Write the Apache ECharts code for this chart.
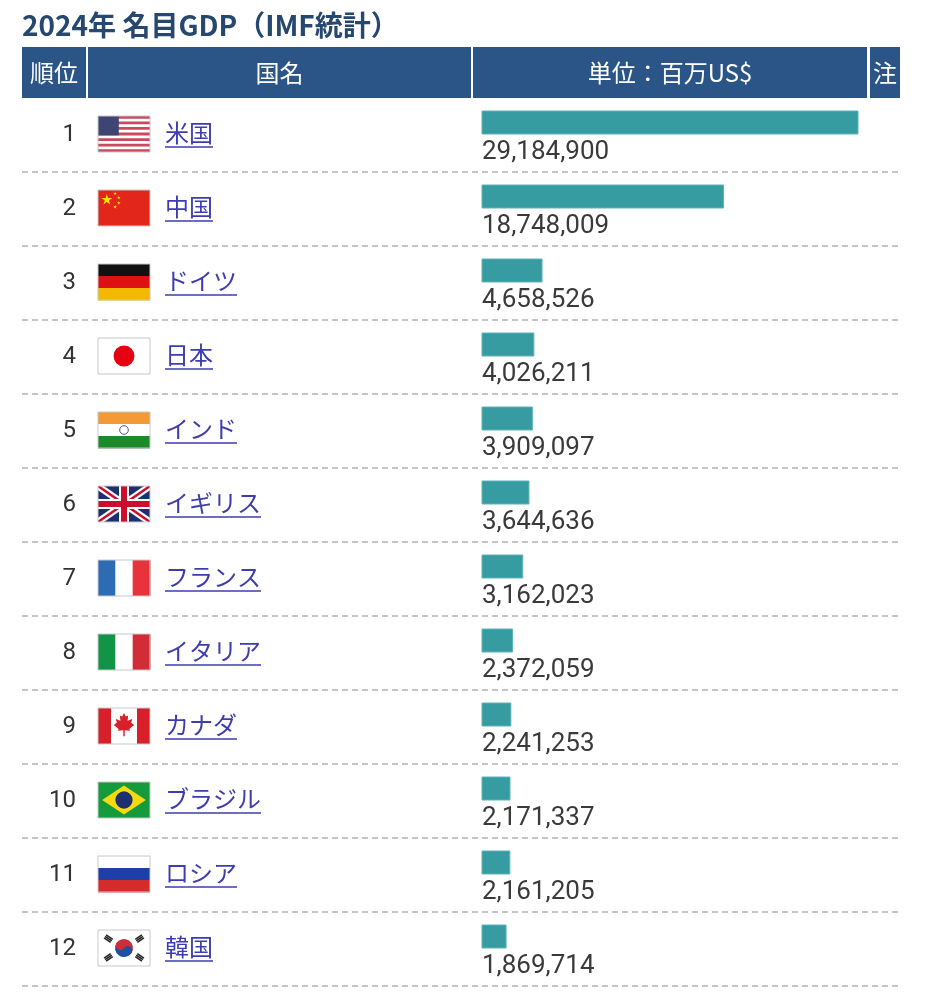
<!DOCTYPE html>
<html>
<head>
<meta charset="utf-8">
<script src="https://cdn.jsdelivr.net/npm/echarts@6/dist/echarts.min.js"></script>
<style>
  html, body { margin: 0; padding: 0; background: #fff; }
  #chart { width: 952px; height: 996px; }
</style>
</head>
<body>
<div id="chart"></div>
<script>
// data
var ranks = [1, 2, 3, 4, 5, 6, 7, 8, 9, 10, 11, 12];
var countries = ['米国', '中国', 'ドイツ', '日本', 'インド', 'イギリス', 'フランス', 'イタリア', 'カナダ', 'ブラジル', 'ロシア', '韓国'];
var flagCodes = ['us', 'cn', 'de', 'jp', 'in', 'gb', 'fr', 'it', 'ca', 'br', 'ru', 'kr'];
var gdp = [29184900, 18748009, 4658526, 4026211, 3909097, 3644636, 3162023, 2372059, 2241253, 2171337, 2161205, 1869714];
var titleText = '2024年 名目GDP（IMF統計）';
var headerLabels = ['順位', '国名', '単位：百万US$', '注'];

var JP = '"Noto Sans CJK JP", "Noto Sans", sans-serif';
var NAME_FONT = '24px ' + JP;
var NUM_FONT = '26px Roboto, "Noto Sans", sans-serif';
var LINK = '#3d3daf';

var measureCtx = document.createElement('canvas').getContext('2d');
function textWidth(str, font) {
  measureCtx.font = font;
  return measureCtx.measureText(str).width;
}

function rect(x, y, w, h, fill) {
  return { type: 'rect', shape: { x: x, y: y, width: w, height: h }, style: { fill: fill } };
}
function poly(points, fill) {
  return { type: 'polygon', shape: { points: points }, style: { fill: fill } };
}
function circle(cx, cy, r, fill) {
  return { type: 'circle', shape: { cx: cx, cy: cy, r: r }, style: { fill: fill } };
}
function star(cx, cy, r, fill) {
  var pts = [];
  for (var k = 0; k < 10; k++) {
    var a = -Math.PI / 2 + k * Math.PI / 5;
    var rr = k % 2 ? r * 0.382 : r;
    pts.push([cx + rr * Math.cos(a), cy + rr * Math.sin(a)]);
  }
  return poly(pts, fill);
}
function hBands(w, h, colors) {
  var bh = h / colors.length;
  return colors.map(function (c, k) { return rect(0, k * bh, w, bh + 0.5, c); });
}
function vBands(w, h, colors) {
  var bw = w / colors.length;
  return colors.map(function (c, k) { return rect(k * bw, 0, bw + 0.5, h, c); });
}

function flagShapes(code, w, h) {
  var s = [];
  if (code === 'us') {
    s.push(rect(0, 0, w, h, '#ffffff'));
    var sh = h / 13;
    for (var k = 0; k < 13; k += 2) s.push(rect(0, k * sh, w, sh, '#c94a5c'));
    s.push(rect(0, 0, w * 0.4, sh * 7, '#3f4572'));
  } else if (code === 'cn') {
    s.push(rect(0, 0, w, h, '#e3261c'));
    s.push(star(w * 0.17, h * 0.27, h * 0.16, '#ffde00'));
    s.push(star(w * 0.33, h * 0.1, h * 0.055, '#ffde00'));
    s.push(star(w * 0.4, h * 0.21, h * 0.055, '#ffde00'));
    s.push(star(w * 0.4, h * 0.36, h * 0.055, '#ffde00'));
    s.push(star(w * 0.33, h * 0.47, h * 0.055, '#ffde00'));
  } else if (code === 'de') {
    s = hBands(w, h, ['#111111', '#dd1111', '#f5b800']);
  } else if (code === 'jp') {
    s.push(rect(0, 0, w, h, '#ffffff'));
    s.push(circle(w / 2, h / 2, h * 0.29, '#e60012'));
  } else if (code === 'in') {
    s = hBands(w, h, ['#f39a37', '#ffffff', '#1a8a2a']);
    s.push({ type: 'circle', shape: { cx: w / 2, cy: h / 2, r: h * 0.12 }, style: { fill: 'none', stroke: '#4a5a8a', lineWidth: 1 } });
  } else if (code === 'gb') {
    var a = 6, b = a * h / w, a2 = 2.2, b2 = a2 * h / w;
    s.push(rect(0, 0, w, h, '#1c2f6e'));
    s.push(poly([[0, 0], [a, 0], [w, h - b], [w, h], [w - a, h], [0, b]], '#ffffff'));
    s.push(poly([[w, 0], [w, b], [a, h], [0, h], [0, h - b], [w - a, 0]], '#ffffff'));
    s.push(poly([[0, 0], [a2, 0], [w, h - b2], [w, h], [w - a2, h], [0, b2]], '#c8102e'));
    s.push(poly([[w, 0], [w, b2], [a2, h], [0, h], [0, h - b2], [w - a2, 0]], '#c8102e'));
    s.push(rect(0, h / 2 - 5, w, 10, '#ffffff'));
    s.push(rect(w / 2 - 5, 0, 10, h, '#ffffff'));
    s.push(rect(0, h / 2 - 3, w, 6, '#c8102e'));
    s.push(rect(w / 2 - 3, 0, 6, h, '#c8102e'));
  } else if (code === 'fr') {
    s = vBands(w, h, ['#2d6bb5', '#ffffff', '#e8323c']);
  } else if (code === 'it') {
    s = vBands(w, h, ['#129448', '#ffffff', '#d22c36']);
  } else if (code === 'ca') {
    s.push(rect(0, 0, w, h, '#ffffff'));
    s.push(rect(0, 0, w / 4, h, '#d8202a'));
    s.push(rect(w * 0.75, 0, w / 4, h, '#d8202a'));
    var leaf = [[0, -1], [0.15, -0.7], [0.35, -0.8], [0.3, -0.35], [0.7, -0.5], [0.6, -0.2], [0.85, 0], [0.45, 0.35], [0.5, 0.5], [0.06, 0.45], [0.06, 0.95], [-0.06, 0.95], [-0.06, 0.45], [-0.5, 0.5], [-0.45, 0.35], [-0.85, 0], [-0.6, -0.2], [-0.7, -0.5], [-0.3, -0.35], [-0.35, -0.8], [-0.15, -0.7]];
    var sc = h * 0.33;
    s.push(poly(leaf.map(function (p) { return [w / 2 + p[0] * sc, h * 0.47 + p[1] * sc]; }), '#d8202a'));
  } else if (code === 'br') {
    s.push(rect(0, 0, w, h, '#159a3c'));
    s.push(poly([[w * 0.5, h * 0.1], [w * 0.92, h * 0.5], [w * 0.5, h * 0.9], [w * 0.08, h * 0.5]], '#f7d90f'));
    s.push(circle(w / 2, h / 2, h * 0.24, '#1d2f73'));
  } else if (code === 'ru') {
    s = hBands(w, h, ['#ffffff', '#1f3fa8', '#d52b2b']);
  } else if (code === 'kr') {
    var r = h * 0.25, cx = w / 2, cy = h / 2;
    s.push(rect(0, 0, w, h, '#ffffff'));
    s.push({
      type: 'group', x: cx, y: cy, rotation: -0.59,
      children: [
        { type: 'sector', shape: { cx: 0, cy: 0, r: r, startAngle: Math.PI, endAngle: Math.PI * 2 }, style: { fill: '#cd2e3a' } },
        { type: 'sector', shape: { cx: 0, cy: 0, r: r, startAngle: 0, endAngle: Math.PI }, style: { fill: '#1f4fa0' } },
        circle(-r / 2, 0, r / 2, '#cd2e3a'),
        circle(r / 2, 0, r / 2, '#1f4fa0')
      ]
    });
    var spots = [[0.2, 0.24, 0.98], [0.8, 0.24, -0.98], [0.2, 0.76, -0.98], [0.8, 0.76, 0.98]];
    spots.forEach(function (p) {
      s.push({
        type: 'group', x: w * p[0], y: h * p[1], rotation: p[2],
        children: [rect(-2.6, -4, 1.6, 8, '#222'), rect(-0.8, -4, 1.6, 8, '#222'), rect(1, -4, 1.6, 8, '#222')]
      });
    });
  }
  s.push({ type: 'rect', shape: { x: 0, y: 0, width: w, height: h }, style: { fill: 'none', stroke: '#c8c8c8', lineWidth: 1 } });
  return s;
}

function renderRow(params, api) {
  var i = api.value(1);
  var val = api.value(0);
  var start = api.coord([0, i]);
  var end = api.coord([val, i]);
  var band = api.size([0, 1])[1];
  var top = start[1] - band / 2;
  var name = countries[i];
  var nameW = textWidth(name, NAME_FONT);
  return {
    type: 'group',
    children: [
      { type: 'text', style: { x: 76, y: top + 37, text: String(ranks[i]), align: 'right', verticalAlign: 'middle', font: '24px Roboto, sans-serif', fill: '#333' } },
      { type: 'group', x: 98, y: top + 18, children: flagShapes(flagCodes[i], 52, 36) },
      { type: 'text', style: { x: 165, y: top + 35, text: name, verticalAlign: 'middle', font: NAME_FONT, fill: LINK } },
      { type: 'line', shape: { x1: 165, y1: top + 49, x2: 165 + nameW, y2: top + 49 }, style: { stroke: LINK, lineWidth: 1.5 } },
      { type: 'rect', shape: { x: start[0], y: top + 13, width: end[0] - start[0], height: 23 }, style: { fill: '#379ba2', stroke: '#5cb3b8', lineWidth: 1 } },
      { type: 'text', style: { x: start[0], y: top + 54, text: echarts.format.addCommas(val), verticalAlign: 'middle', font: NUM_FONT, fill: '#3a3a3a' } },
      { type: 'line', shape: { x1: 22, y1: top + band, x2: 902, y2: top + band }, style: { stroke: '#c4c4c4', lineWidth: 2, lineDash: [6, 4] } }
    ]
  };
}

var headerCols = [[22, 86], [88, 471], [473, 867], [870, 900]];
var headerGraphics = [];
headerCols.forEach(function (c, k) {
  headerGraphics.push({ type: 'rect', shape: { x: c[0], y: 47, width: c[1] - c[0], height: 51 }, style: { fill: '#2b5587' } });
  headerGraphics.push({ type: 'text', style: { x: (c[0] + c[1]) / 2, y: 73, text: headerLabels[k], align: 'center', verticalAlign: 'middle', font: '24px ' + JP, fill: '#ffffff' } });
});

var myChart = echarts.init(document.getElementById('chart'));
var option = {
  backgroundColor: '#ffffff',
  animation: false,
  title: {
    text: titleText,
    left: 17,
    top: 6,
    textStyle: { fontFamily: JP, fontSize: 28, fontWeight: 'bold', color: '#26476f' }
  },
  graphic: headerGraphics,
  grid: { left: 482, top: 98, width: 376, height: 888 },
  xAxis: { type: 'value', min: 0, max: gdp[0], show: false },
  yAxis: { type: 'category', data: countries, inverse: true, show: false },
  series: [{
    type: 'custom',
    renderItem: renderRow,
    clip: false,
    encode: { x: 0, y: 1 },
    data: gdp.map(function (v, i) { return [v, i]; })
  }]
};
myChart.setOption(option);
</script>
</body>
</html>
